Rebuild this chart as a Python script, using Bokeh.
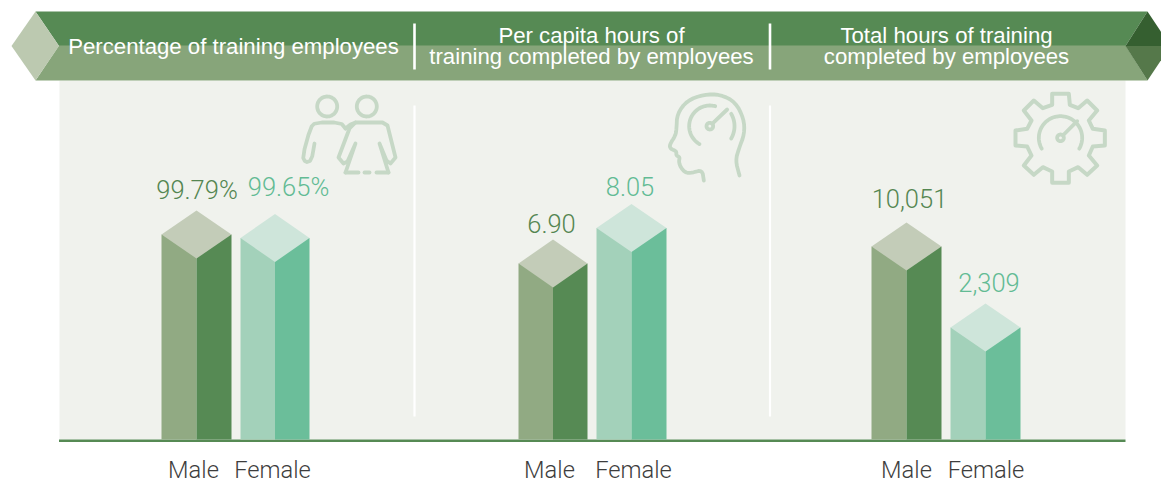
from bokeh.plotting import figure
from bokeh.models import Range1d
from bokeh.core.properties import value
from bokeh.embed import file_html
from bokeh.resources import INLINE
import numpy as np

# ---- data ----
panel_titles = [["Percentage of training employees"],
                ["Per capita hours of", "training completed by employees"],
                ["Total hours of training", "completed by employees"]]
categories = ["Male", "Female"]
male_labels = ["99.79%", "6.90", "10,051"]
female_labels = ["99.65%", "8.05", "2,309"]
# heights of the drawn columns above the baseline
male_heights = [205, 176, 193]
female_heights = [201.5, 211.5, 112]

# ---- layout / style ----
BASE = 439            # pixel row of y = 0
PX_LEFT, PX_TOP = 0, 0
W, H = 1161, 483
def Y(px):
    return BASE - np.asarray(px, dtype=float)

C_DARK, C_MID = "#568a54", "#87a57a"
C_BG = "#f0f2ed"
C_ICON = "#c6d8c6"
MALE = dict(left="#91aa83", right="#568a54", top="#c3ccb8", text="#548651")
FEMALE = dict(left="#a3d1ba", right="#6bbe9a", top="#cee5da", text="#62bb94")
FONT = value("Liberation Sans")
LIGHT = value("Roboto Light")

p = figure(width=W, height=H, output_backend="svg", toolbar_location=None,
           x_range=Range1d(PX_LEFT, PX_LEFT + W), y_range=Range1d(BASE - (PX_TOP + H), BASE - PX_TOP),
           x_axis_type=None, y_axis_type=None, min_border=0, outline_line_color=None,
           background_fill_color="white")
p.grid.visible = False

# panel background & baseline
p.quad(left=[59], right=[1125], bottom=[0], top=Y([80]), fill_color=C_BG, line_color=None)
p.line([58.5, 1125], [-1.2, -1.2], line_color=C_DARK, line_width=2.6)

# banner
p.patch([35, 1147, 1125, 58.5], Y([11, 11, 45.5, 45.5]), fill_color=C_DARK, line_color=None)
p.patch([58.5, 1125, 1147, 35], Y([45, 45, 80, 80]), fill_color=C_MID, line_color=None)
p.patch([11, 35, 58.5, 35], Y([45.5, 11, 45.5, 80]), fill_color="#bcc9b0", line_color=None)
p.patch([1125, 1147, 1170], Y([45.5, 11, 45.5]), fill_color="#355f30", line_color=None)
p.patch([1125, 1170, 1147], Y([45.5, 45.5, 80]), fill_color="#55784a", line_color=None)

# separators
for x in (414, 769.5):
    p.line([x, x], Y([23, 69]), line_color="white", line_width=2.6)
    p.line([x, x], Y([105, 416]), line_color="white", line_width=2.2)

# columns
groups = [(161, 196, 231, 240, 274.5, 309),
          (518, 552.5, 587, 596, 631, 666),
          (871, 906, 941, 950, 985, 1020)]
def column(xl, xc, xr, h, st):
    p.quad(left=[xl], right=[xc], bottom=[0], top=[h], fill_color=st["left"], line_color=None)
    p.quad(left=[xc], right=[xr], bottom=[0], top=[h], fill_color=st["right"], line_color=None)
    p.patch([xl, xc, xr, xc], [h, h + 24, h, h - 24], fill_color=st["top"], line_color=None)

for g, mh, fh in zip(groups, male_heights, female_heights):
    column(g[0], g[1], g[2], mh, MALE)
    column(g[3], g[4], g[5], fh, FEMALE)

def txt(x, ypx, s, color, size, font=FONT):
    # ypx is the text's baseline row; the glyph anchors on the middle of the em box
    p.text([x], Y([ypx - 0.35 * size]), text=[s], text_color=color, text_font=font, text_font_size=f"{size}px",
           text_align="center", text_baseline="middle")

# value labels
male_pos = [(196.5, 198), (551, 231.5), (909, 206.7)]
female_pos = [(288, 195), (629.5, 195), (988.5, 291)]
for s, (x, y) in zip(male_labels, male_pos):
    txt(x, y, s, MALE["text"], 25.5, LIGHT)
for s, (x, y) in zip(female_labels, female_pos):
    txt(x, y, s, FEMALE["text"], 25.5, LIGHT)

# category labels
cat_x = [(193, 272), (549, 633), (906, 985.5)]
for xs in cat_x:
    for x, s in zip(xs, categories):
        txt(x, 477.5, s, "#3d3d3d", 23.7, LIGHT)

# banner titles
TS = 22.2
txt(233, 53.5, panel_titles[0][0], "white", TS)
for cx, lines in zip((591, 946), panel_titles[1:]):
    txt(cx, 43, lines[0], "white", TS)
    txt(cx, 64, lines[1], "white", TS)

# ---- icons ----
def smooth(pts, n=3):
    pts = np.asarray(pts, dtype=float)
    for _ in range(n):
        q = 0.75 * pts[:-1] + 0.25 * pts[1:]
        r = 0.25 * pts[:-1] + 0.75 * pts[1:]
        mid = np.empty((2 * len(q), 2))
        mid[0::2] = q
        mid[1::2] = r
        pts = np.vstack([pts[0], mid, pts[-1]])
    return pts

def stroke(pts, ox=0, oy=0, k=1.0, lw=3.8, sm=0):
    pts = np.asarray(pts, dtype=float)
    if sm:
        pts = smooth(pts, sm)
    p.line(ox + pts[:, 0] * k, Y(oy + pts[:, 1] * k), line_color=C_ICON, line_width=lw,
           line_cap="round", line_join="round")

def arc_pts(cx, cy, r, a0, a1, n=60):
    a = np.radians(np.linspace(a0, a1, n))
    return np.c_[cx + r * np.cos(a), cy + r * np.sin(a)]

# people
for cx in (326.7, 366.3):
    stroke(arc_pts(cx, 106, 10, 0, 360))
stroke([(314, 143), (311, 160), (305, 162), (302, 156), (310, 127), (315, 122), (340, 122), (345, 128)], sm=1)
stroke([(345, 128), (350, 124), (355, 122), (382, 122), (387, 125), (395, 157), (390, 163), (386, 160), (379, 143), (388, 172)])
stroke([(355, 122), (349, 128), (338, 157), (343, 163), (347, 161), (355, 143), (345, 172)])
stroke([(345, 172), (358, 172)])
stroke([(364, 172), (369, 172)])
stroke([(376, 172), (388, 172)])

# head
hx, hy, k = 660, 85, 1 / 3
head = [(237, 270), (225, 225), (235, 190), (252, 145), (250, 100), (225, 50), (180, 27), (130, 27),
        (80, 45), (50, 85), (48, 130), (45, 150), (27, 178), (30, 190), (48, 197), (47, 210), (58, 215),
        (55, 228), (60, 245), (75, 262), (95, 262), (125, 253), (130, 285)]
stroke(head, hx, hy, k, sm=2)
stroke(arc_pts(148, 122, 62, 120, 285), hx, hy, k)
stroke(arc_pts(148, 122, 74, -30, 30), hx, hy, k)
stroke(arc_pts(148, 122, 10, 0, 360), hx, hy, k)
stroke([(158, 112), (200, 72)], hx, hy, k)

# gear
gx, gy = 1005, 85
gear = [(140, 25), (190, 25), (193, 58), (218, 68), (245, 45), (275, 75), (250, 105), (262, 130), (298, 135),
        (298, 180), (262, 183), (250, 210), (275, 240), (245, 268), (218, 245), (190, 258), (190, 292),
        (140, 292), (140, 258), (112, 245), (85, 268), (55, 240), (78, 210), (65, 183), (30, 180), (30, 135),
        (65, 130), (78, 105), (55, 75), (85, 45), (112, 68), (140, 58), (140, 25)]
stroke(gear, gx, gy, k, lw=4)
stroke(arc_pts(165, 157, 65, 150, 390), gx, gy, k)
stroke(arc_pts(165, 157, 10, 0, 360), gx, gy, k)
stroke([(175, 147), (215, 107)], gx, gy, k)

open("out.html", "w").write(file_html(p, INLINE))
